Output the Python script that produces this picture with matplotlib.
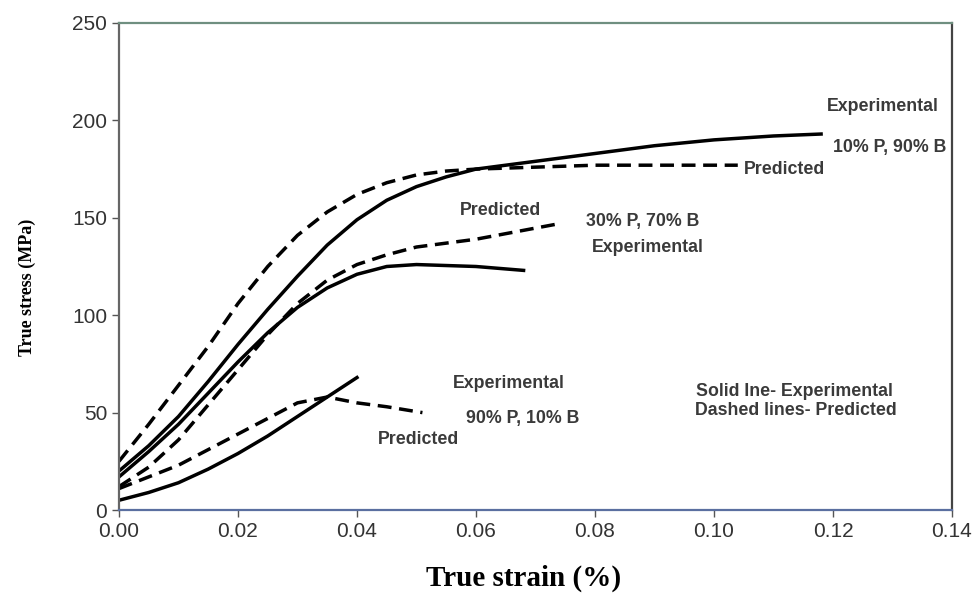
import matplotlib
matplotlib.use('Agg')
import matplotlib.pyplot as plt

# 10% P, 90% B
exp_10_x = [0.0, 0.005, 0.01, 0.015, 0.02, 0.025, 0.03, 0.035, 0.04, 0.045, 0.05, 0.055, 0.06, 0.07, 0.08, 0.09, 0.10, 0.11, 0.118]
exp_10_y = [20, 33, 48, 66, 85, 103, 120, 136, 149, 159, 166, 171, 175, 179, 183, 187, 190, 192, 193]
pred_10_x = [0.0, 0.005, 0.01, 0.015, 0.02, 0.025, 0.03, 0.035, 0.04, 0.045, 0.05, 0.055, 0.06, 0.07, 0.08, 0.09, 0.10, 0.104]
pred_10_y = [25, 44, 64, 84, 106, 125, 141, 153, 162, 168, 172, 174, 175, 176, 177, 177, 177, 177]

# 30% P, 70% B
exp_30_x = [0.0, 0.005, 0.01, 0.015, 0.02, 0.025, 0.03, 0.035, 0.04, 0.045, 0.05, 0.06, 0.068]
exp_30_y = [17, 30, 44, 60, 76, 91, 104, 114, 121, 125, 126, 125, 123]
pred_30_x = [0.0, 0.005, 0.01, 0.015, 0.02, 0.025, 0.03, 0.035, 0.04, 0.045, 0.05, 0.06, 0.074]
pred_30_y = [12, 22, 36, 54, 72, 90, 106, 118, 126, 131, 135, 139, 147]

# 90% P, 10% B
exp_90_x = [0.0, 0.005, 0.01, 0.015, 0.02, 0.025, 0.03, 0.035, 0.04]
exp_90_y = [5, 9, 14, 21, 29, 38, 48, 58, 68]
pred_90_x = [0.0, 0.005, 0.01, 0.015, 0.02, 0.025, 0.03, 0.035, 0.04, 0.045, 0.051]
pred_90_y = [11, 17, 23, 31, 39, 47, 55, 58, 55, 53, 50]

labels = [
    (0.1190, 207, 'Experimental'),
    (0.1200, 186, '10% P, 90% B'),
    (0.1050, 175, 'Predicted'),
    (0.0573, 154, 'Predicted'),
    (0.0785, 148, '30% P, 70% B'),
    (0.0795, 135, 'Experimental'),
    (0.0562, 65, 'Experimental'),
    (0.0583, 47, '90% P, 10% B'),
    (0.0435, 36, 'Predicted'),
    (0.0970, 61, 'Solid Ine- Experimental'),
    (0.0968, 51, 'Dashed lines- Predicted'),
]

fig = plt.figure(figsize=(9.76, 5.94), dpi=100)
ax = fig.add_axes([0.1219, 0.1414, 0.8535, 0.8199])

lw = 2.5
dash = (4, 2.2)
ax.plot(exp_10_x, exp_10_y, color='black', lw=lw)
ax.plot(pred_10_x, pred_10_y, color='black', lw=lw, dashes=dash)
ax.plot(exp_30_x, exp_30_y, color='black', lw=lw)
ax.plot(pred_30_x, pred_30_y, color='black', lw=lw, dashes=dash)
ax.plot(exp_90_x, exp_90_y, color='black', lw=lw)
ax.plot(pred_90_x, pred_90_y, color='black', lw=lw, dashes=dash)

for x, y, t in labels:
    ax.text(x, y, t, fontsize=12.8, family='Liberation Sans', fontweight='bold',
            color='#3a3a3a', ha='left', va='center')

ax.set_xlim(0, 0.14)
ax.set_ylim(0, 250)
ax.set_xticks([0.0, 0.02, 0.04, 0.06, 0.08, 0.10, 0.12, 0.14])
ax.set_xticklabels(['0.00', '0.02', '0.04', '0.06', '0.08', '0.10', '0.12', '0.14'])
ax.set_yticks([0, 50, 100, 150, 200, 250])
ax.tick_params(labelsize=15, length=5, width=1, color='#555', labelcolor='#333')
for lab in ax.get_xticklabels() + ax.get_yticklabels():
    lab.set_family('Liberation Sans')

ax.spines['top'].set_color('#6f8f80')
ax.spines['bottom'].set_color('#5a6fa0')
ax.spines['left'].set_color('#666')
ax.spines['right'].set_color('#444')
for s in ax.spines.values():
    s.set_linewidth(1.6)

ax.set_xlabel('True strain (%)', fontsize=21, fontweight='bold', family='Liberation Serif')
ax.set_ylabel('True stress (MPa)', fontsize=13, fontweight='bold', family='Liberation Serif')
ax.xaxis.set_label_coords(0.486, -0.112)
ax.yaxis.set_label_coords(-0.100, 0.458)

fig.savefig('out.png', dpi=100)
